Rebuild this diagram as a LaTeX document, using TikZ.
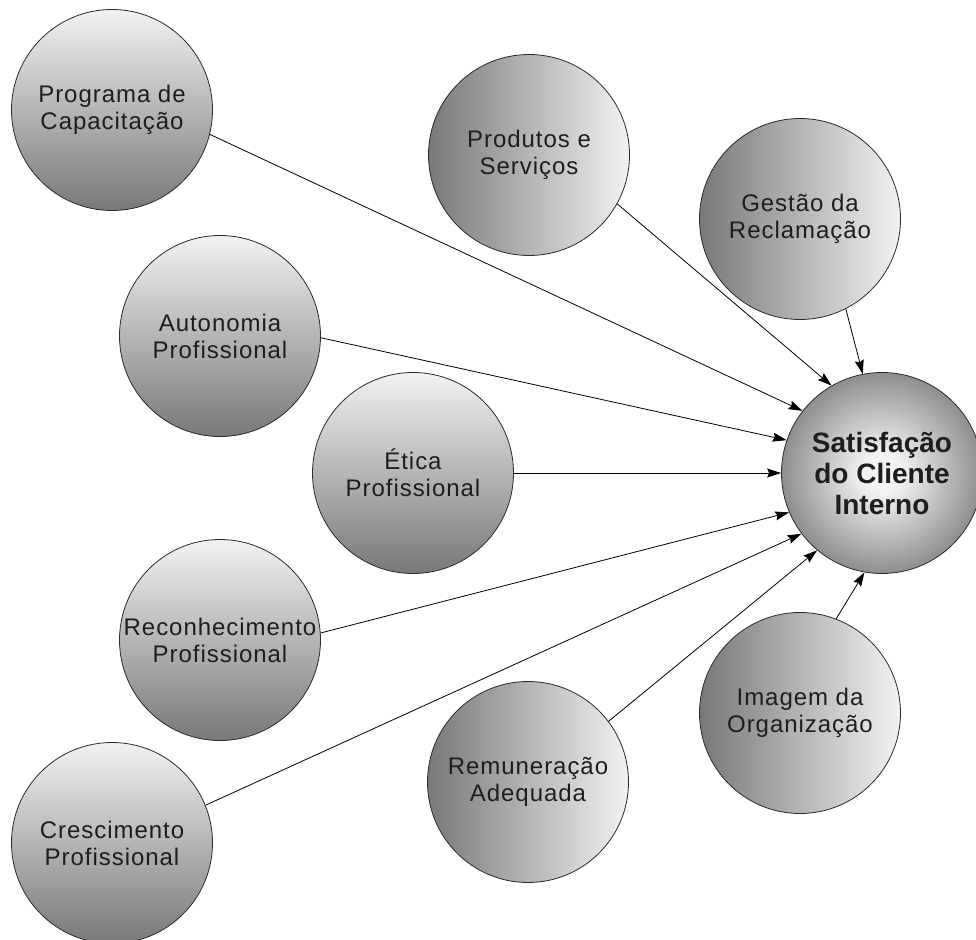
\documentclass[tikz,border=0pt]{standalone}
\usepackage{fontspec}
\setmainfont{Liberation Sans}
\newfontfamily\circfont[LetterSpace=4]{Liberation Sans}
\usetikzlibrary{arrows.meta}
\definecolor{lightg}{HTML}{F2F2F2}
\definecolor{darkg}{HTML}{787878}
\definecolor{satedge}{HTML}{8E8E8E}
\definecolor{rim}{HTML}{2A2A2A}
\definecolor{ink}{HTML}{1E1E1E}
\pgfdeclareradialshading{satshade}{\pgfpoint{0bp}{0bp}}{%
  color(0bp)=(lightg); color(5bp)=(lightg); color(25bp)=(satedge); color(50bp)=(satedge)}
\tikzset{
  bubble/.style={circle, draw=rim, line width=0.8pt, minimum size=201pt, inner sep=0pt,
    align=center, text=ink, font=\circfont\fontsize{24}{27}\selectfont},
  vshade/.style={bubble, top color=lightg, bottom color=darkg},
  hshade/.style={bubble, left color=darkg, right color=lightg},
  satbubble/.style={circle, draw=rim, line width=0.8pt, minimum size=201pt, inner sep=0pt,
    align=center, text=ink, shading=satshade,
    font=\bfseries\fontsize{28}{31}\selectfont},
  link/.style={-{Stealth[length=14pt,width=9pt,inset=2pt]}, line width=0.8pt, black},
}
\begin{document}
\begin{tikzpicture}[x=1pt,y=-1pt]
\useasboundingbox (0,0) rectangle (976,939);
\node[vshade] (prog) at (112,110) {Programa de\\Capacitação};
\node[hshade] (prod) at (529,155) {Produtos e\\Serviços};
\node[hshade] (gest) at (800,219) {Gestão da\\Reclamação};
\node[vshade] (auto) at (220,336) {Autonomia\\Profissional};
\node[vshade] (etic) at (413,473) {Ética\\Profissional};
\node[vshade] (reco) at (220,640) {Reconhecimento\\Profissional};
\node[vshade] (cres) at (112,843) {Crescimento\\Profissional};
\node[hshade] (remu) at (528,782) {Remuneração\\Adequada};
\node[hshade] (imag) at (800,713) {Imagem da\\Organização};
\node[satbubble] (sat) at (882,473) {Satisfação\\do Cliente\\Interno};
\draw[link] (prog.-14) -- (sat.142);
\draw[link] (prod.-29) -- (sat.120);
\draw[link] (gest.-63) -- (sat.101);
\draw[link] (auto.-1) -- (sat.161);
\draw[link] (etic.0) -- (sat.180);
\draw[link] (reco.4) -- (sat.203);
\draw[link] (cres.22) -- (sat.217);
\draw[link] (remu.37) -- (sat.230);
\draw[link] (imag.69) -- (sat.260);
\end{tikzpicture}
\end{document}
